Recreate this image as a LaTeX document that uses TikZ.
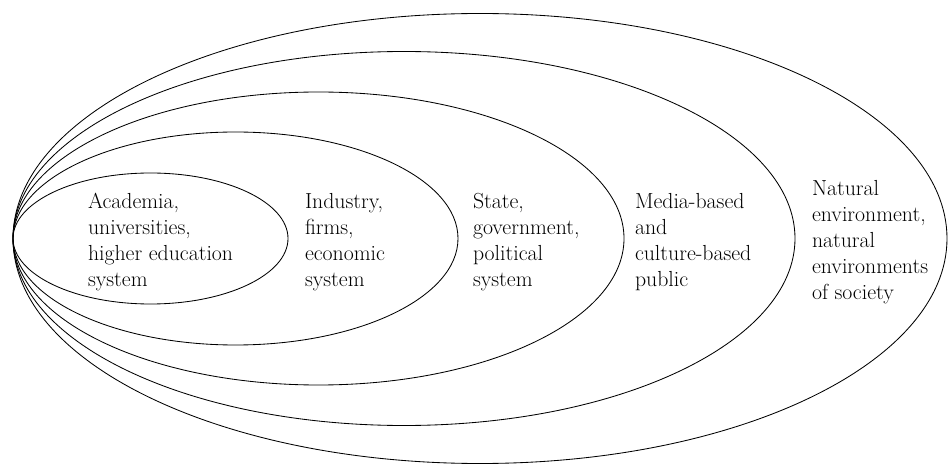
\documentclass[tikz,border=0pt]{standalone}
\usetikzlibrary{shapes,calc}

\begin{document}
\begin{tikzpicture}[outer sep=0pt, ring/.style={line width=0.6pt},
  sphere/.style={anchor=west, align=left, inner sep=0pt, font=\fontsize{15.5}{18.6}\selectfont}]

\useasboundingbox (0,0) rectangle (23.7,11.6);
\coordinate (TIP) at (0.325, 5.6375);

% nested spheres, all touching at TIP
\draw [ring] ($(TIP)+(3.4375,0)$) ellipse [x radius=3.4375, y radius=1.6375];
\draw [ring] ($(TIP)+(5.5625,0)$) ellipse [x radius=5.5625, y radius=2.6625];
\draw [ring] ($(TIP)+(7.6375,0)$) ellipse [x radius=7.6375, y radius=3.6625];
\draw [ring] ($(TIP)+(9.775,0)$) ellipse [x radius=9.775, y radius=4.675];
\draw [ring] ($(TIP)+(11.675,0)$) ellipse [x radius=11.675, y radius=5.625];

\node [sphere] at (2.2, 5.55) (ACADEMIA) {Academia,\\universities,\\higher education\\system};
\node [sphere] at (7.625, 5.55) (INDUSTRY) {Industry,\\firms,\\economic\\system};
\node [sphere] at (11.825, 5.55) (STATE) {State,\\government,\\political\\system};
\node [sphere] at (15.875, 5.55) (MEDIA) {Media-based\\and\\culture-based\\public};
\node [sphere] at (20.3, 5.55) (NATURE) {Natural\\environment,\\natural\\environments\\of society};
\end{tikzpicture}
\end{document}
